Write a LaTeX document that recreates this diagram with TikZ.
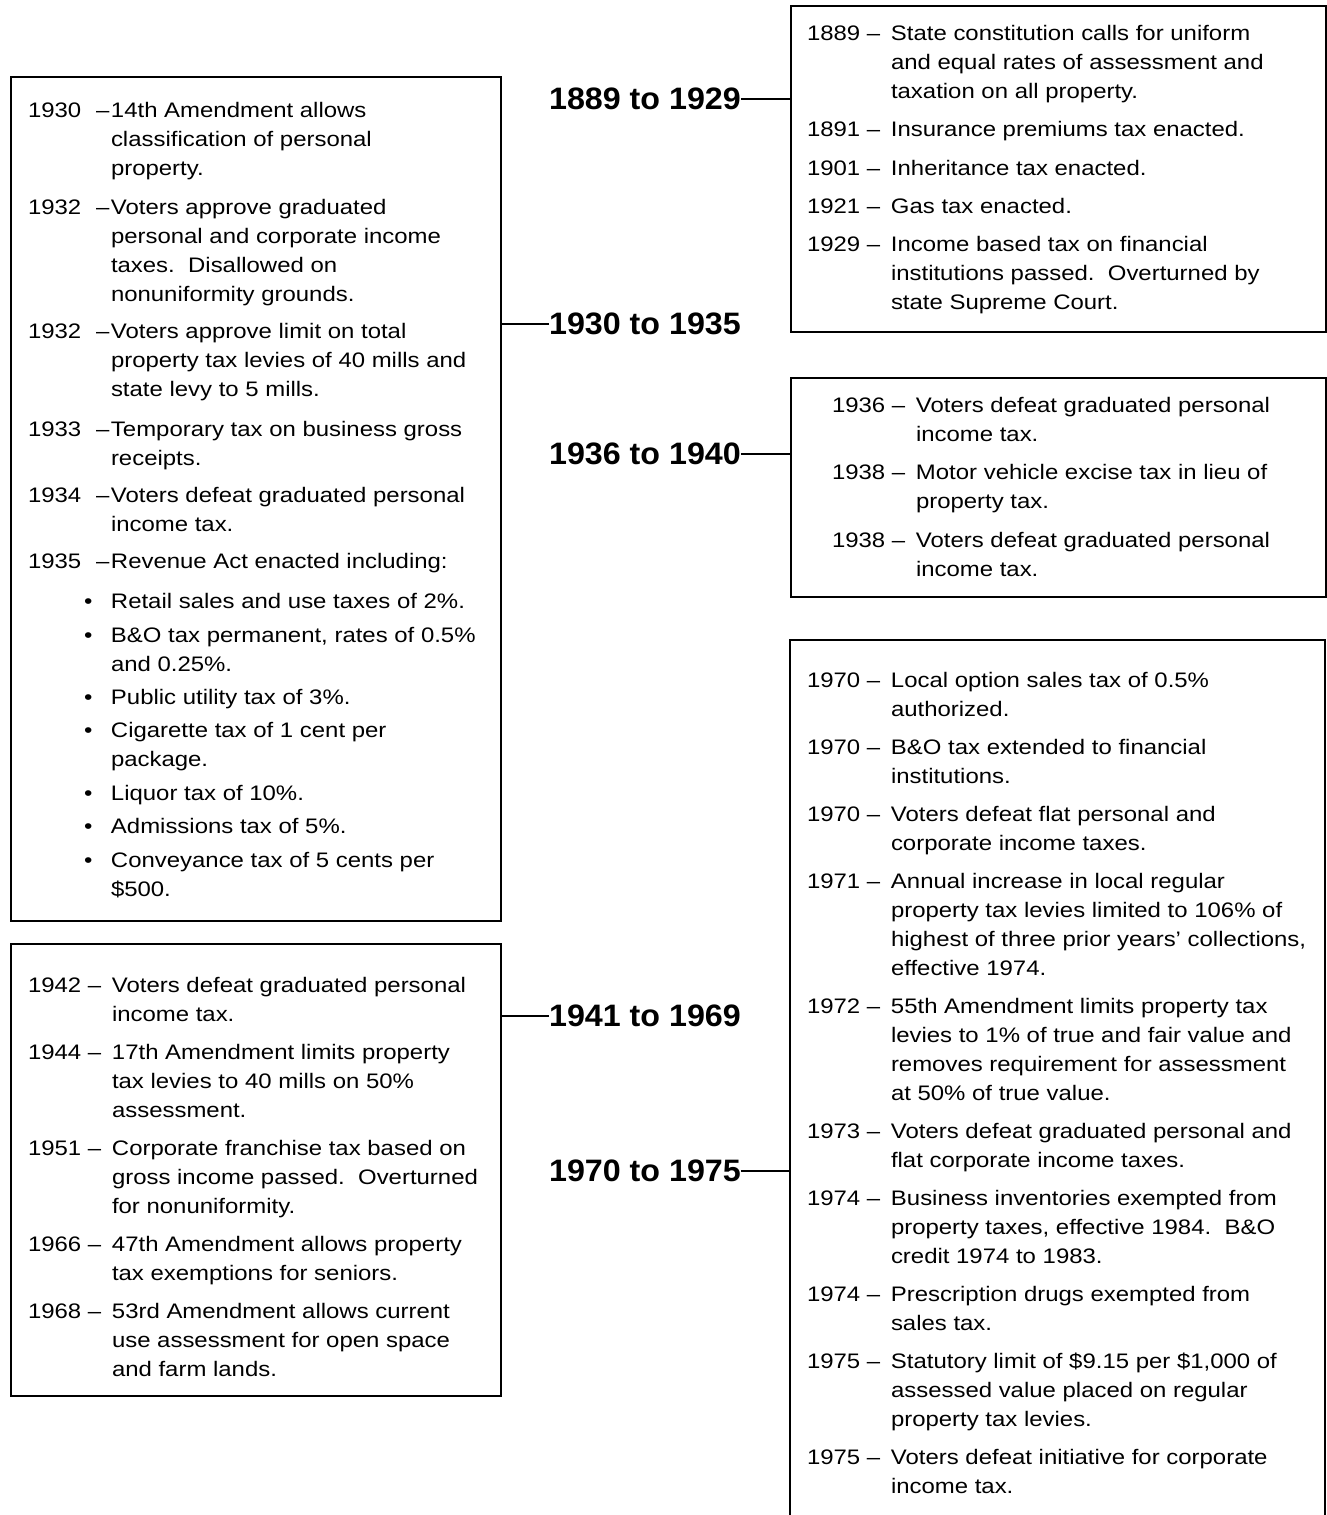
\documentclass[tikz,border=0pt]{standalone}
\usepackage{fontspec}
\setmainfont{Liberation Sans}
\newfontfamily\bodyf{Liberation Sans}[FakeStretch=1.14]
\newfontfamily\labf{Liberation Sans}[FakeStretch=1.04]
\newcommand\yrA[1]{\makebox[83pt][l]{#1\hspace{15pt}–}}
\newcommand\yrB[1]{\makebox[84pt][l]{#1 – }}
\newcommand\bul{\makebox[28pt][l]{\hspace{1pt}\textbullet}}
\tikzset{
  x=1pt, y=-1pt,
  box/.style={draw, line width=2pt, inner sep=0pt, anchor=north west},
  openbox/.style={inner sep=0pt, anchor=north west},
  entry/.style={anchor=base west, inner sep=0pt, outer sep=0pt, font=\bodyf\fontsize{21}{29.3}\selectfont},
  period/.style={font=\labf\bfseries\fontsize{31}{36}\selectfont, inner sep=0pt, outer sep=0pt},
  link/.style={line width=2pt},
}
\begin{document}
\begin{tikzpicture}
\useasboundingbox[fill=white] (0,0) rectangle (1327,1515);

% boxes
\node[box, minimum width=490pt, minimum height=844pt] (boxA) at (10,76) {};
\node[box, minimum width=535pt, minimum height=326pt] (boxB) at (790,5) {};
\node[box, minimum width=535pt, minimum height=219pt] (boxC) at (790,377) {};
\node[box, minimum width=490pt, minimum height=452pt] (boxD) at (10,943) {};
\node[openbox, minimum width=535pt, minimum height=900pt] (boxE) at (790,640) {};
\draw[link] (boxE.south west) -- (boxE.north west) -- (boxE.north east) -- (boxE.south east);

% period labels
\node[period] (p1) at (645,99) {1889 to 1929};
\node[period] (p2) at (645,324) {1930 to 1935};
\node[period] (p3) at (645,454) {1936 to 1940};
\node[period] (p4) at (645,1016) {1941 to 1969};
\node[period] (p5) at (645,1171) {1970 to 1975};
\draw[link] (p1.east) -- (p1.east -| boxB.west);
\draw[link] (p2.west) -- (p2.west -| boxA.east);
\draw[link] (p3.east) -- (p3.east -| boxC.west);
\draw[link] (p4.west) -- (p4.west -| boxD.east);
\draw[link] (p5.east) -- (p5.east -| boxE.west);

% box B
\node[entry] (b1) at (807,40) {\begin{tabular}[t]{@{}l@{}l@{}}\yrB{1889}&State constitution calls for uniform\\&and equal rates of assessment and\\&taxation on all property.\end{tabular}};
\node[entry] (b2) at (807,136) {\begin{tabular}[t]{@{}l@{}l@{}}\yrB{1891}&Insurance premiums tax enacted.\end{tabular}};
\node[entry] (b3) at (807,175) {\begin{tabular}[t]{@{}l@{}l@{}}\yrB{1901}&Inheritance tax enacted.\end{tabular}};
\node[entry] (b4) at (807,213) {\begin{tabular}[t]{@{}l@{}l@{}}\yrB{1921}&Gas tax enacted.\end{tabular}};
\node[entry] (b5) at (807,251) {\begin{tabular}[t]{@{}l@{}l@{}}\yrB{1929}&Income based tax on financial\\&institutions passed.\ \ Overturned by\\&state Supreme Court.\end{tabular}};

% box C
\node[entry] (c1) at (832,412) {\begin{tabular}[t]{@{}l@{}l@{}}\yrB{1936}&Voters defeat graduated personal\\&income tax.\end{tabular}};
\node[entry] (c2) at (832,479) {\begin{tabular}[t]{@{}l@{}l@{}}\yrB{1938}&Motor vehicle excise tax in lieu of\\&property tax.\end{tabular}};
\node[entry] (c3) at (832,547) {\begin{tabular}[t]{@{}l@{}l@{}}\yrB{1938}&Voters defeat graduated personal\\&income tax.\end{tabular}};

% box E
\node[entry] (e1) at (807,687) {\begin{tabular}[t]{@{}l@{}l@{}}\yrB{1970}&Local option sales tax of 0.5\%\\&authorized.\end{tabular}};
\node[entry] (e2) at (807,754) {\begin{tabular}[t]{@{}l@{}l@{}}\yrB{1970}&B\&O tax extended to financial\\&institutions.\end{tabular}};
\node[entry] (e3) at (807,821) {\begin{tabular}[t]{@{}l@{}l@{}}\yrB{1970}&Voters defeat flat personal and\\&corporate income taxes.\end{tabular}};
\node[entry] (e4) at (807,888) {\begin{tabular}[t]{@{}l@{}l@{}}\yrB{1971}&Annual increase in local regular\\&property tax levies limited to 106\% of\\&highest of three prior years’ collections,\\&effective 1974.\end{tabular}};
\node[entry] (e5) at (807,1013) {\begin{tabular}[t]{@{}l@{}l@{}}\yrB{1972}&55th Amendment limits property tax\\&levies to 1\% of true and fair value and\\&removes requirement for assessment\\&at 50\% of true value.\end{tabular}};
\node[entry] (e6) at (807,1138) {\begin{tabular}[t]{@{}l@{}l@{}}\yrB{1973}&Voters defeat graduated personal and\\&flat corporate income taxes.\end{tabular}};
\node[entry] (e7) at (807,1205) {\begin{tabular}[t]{@{}l@{}l@{}}\yrB{1974}&Business inventories exempted from\\&property taxes, effective 1984.\ \ B\&O\\&credit 1974 to 1983.\end{tabular}};
\node[entry] (e8) at (807,1301) {\begin{tabular}[t]{@{}l@{}l@{}}\yrB{1974}&Prescription drugs exempted from\\&sales tax.\end{tabular}};
\node[entry] (e9) at (807,1368) {\begin{tabular}[t]{@{}l@{}l@{}}\yrB{1975}&Statutory limit of \$9.15 per \$1,000 of\\&assessed value placed on regular\\&property tax levies.\end{tabular}};
\node[entry] (e10) at (807,1464) {\begin{tabular}[t]{@{}l@{}l@{}}\yrB{1975}&Voters defeat initiative for corporate\\&income tax.\end{tabular}};

% box D
\node[entry] (d1) at (28,992) {\begin{tabular}[t]{@{}l@{}l@{}}\yrB{1942}&Voters defeat graduated personal\\&income tax.\end{tabular}};
\node[entry] (d2) at (28,1059) {\begin{tabular}[t]{@{}l@{}l@{}}\yrB{1944}&17th Amendment limits property\\&tax levies to 40 mills on 50\%\\&assessment.\end{tabular}};
\node[entry] (d3) at (28,1155) {\begin{tabular}[t]{@{}l@{}l@{}}\yrB{1951}&Corporate franchise tax based on\\&gross income passed.\ \ Overturned\\&for nonuniformity.\end{tabular}};
\node[entry] (d4) at (28,1251) {\begin{tabular}[t]{@{}l@{}l@{}}\yrB{1966}&47th Amendment allows property\\&tax exemptions for seniors.\end{tabular}};
\node[entry] (d5) at (28,1318) {\begin{tabular}[t]{@{}l@{}l@{}}\yrB{1968}&53rd Amendment allows current\\&use assessment for open space\\&and farm lands.\end{tabular}};

% box A
\node[entry] (a1) at (28,117) {\begin{tabular}[t]{@{}l@{}l@{}}\yrA{1930}&14th Amendment allows\\&classification of personal\\&property.\end{tabular}};
\node[entry] (a2) at (28,214) {\begin{tabular}[t]{@{}l@{}l@{}}\yrA{1932}&Voters approve graduated\\&personal and corporate income\\&taxes.\ \ Disallowed on\\&nonuniformity grounds.\end{tabular}};
\node[entry] (a3) at (28,338) {\begin{tabular}[t]{@{}l@{}l@{}}\yrA{1932}&Voters approve limit on total\\&property tax levies of 40 mills and\\&state levy to 5 mills.\end{tabular}};
\node[entry] (a4) at (28,436) {\begin{tabular}[t]{@{}l@{}l@{}}\yrA{1933}&Temporary tax on business gross\\&receipts.\end{tabular}};
\node[entry] (a5) at (28,502) {\begin{tabular}[t]{@{}l@{}l@{}}\yrA{1934}&Voters defeat graduated personal\\&income tax.\end{tabular}};
\node[entry] (a6) at (28,568) {\begin{tabular}[t]{@{}l@{}l@{}}\yrA{1935}&Revenue Act enacted including:\end{tabular}};
\node[entry] (a7) at (83,608) {\begin{tabular}[t]{@{}l@{}l@{}}\bul&Retail sales and use taxes of 2\%.\end{tabular}};
\node[entry] (a8) at (83,642) {\begin{tabular}[t]{@{}l@{}l@{}}\bul&B\&O tax permanent, rates of 0.5\%\\&and 0.25\%.\end{tabular}};
\node[entry] (a9) at (83,704) {\begin{tabular}[t]{@{}l@{}l@{}}\bul&Public utility tax of 3\%.\end{tabular}};
\node[entry] (a10) at (83,737) {\begin{tabular}[t]{@{}l@{}l@{}}\bul&Cigarette tax of 1 cent per\\&package.\end{tabular}};
\node[entry] (a11) at (83,800) {\begin{tabular}[t]{@{}l@{}l@{}}\bul&Liquor tax of 10\%.\end{tabular}};
\node[entry] (a12) at (83,833) {\begin{tabular}[t]{@{}l@{}l@{}}\bul&Admissions tax of 5\%.\end{tabular}};
\node[entry] (a13) at (83,867) {\begin{tabular}[t]{@{}l@{}l@{}}\bul&Conveyance tax of 5 cents per\\&\$500.\end{tabular}};
\end{tikzpicture}
\end{document}
